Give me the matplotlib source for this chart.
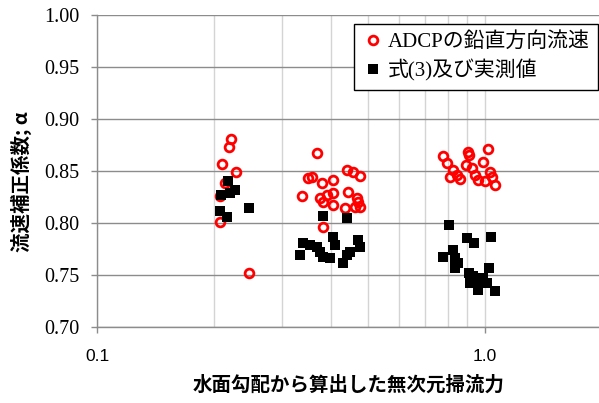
import matplotlib
matplotlib.use("Agg")
import matplotlib.pyplot as plt
from matplotlib.font_manager import FontProperties
from matplotlib.ticker import FixedLocator, NullFormatter, FixedFormatter

# ADCP vertical velocity (red open circles)
adcp_x = [0.221, 0.219, 0.210, 0.228, 0.214, 0.2075, 0.2075, 0.246,
          0.369, 0.350, 0.358, 0.338, 0.380, 0.406, 0.441, 0.457, 0.476, 0.443,
          0.376, 0.382, 0.391, 0.406, 0.406, 0.468, 0.471, 0.476, 0.436, 0.463, 0.382,
          0.779, 0.798, 0.827, 0.813, 0.847, 0.862, 0.904, 0.909, 0.926, 0.943,
          0.960, 0.988, 1.018, 1.030, 1.043, 1.062, 1.000, 0.893]
adcp_y = [0.881, 0.873, 0.857, 0.849, 0.838, 0.826, 0.801, 0.752,
          0.867, 0.843, 0.844, 0.826, 0.838, 0.841, 0.851, 0.849, 0.845, 0.830,
          0.824, 0.820, 0.827, 0.829, 0.817, 0.824, 0.820, 0.815, 0.814, 0.815, 0.796,
          0.864, 0.858, 0.851, 0.844, 0.846, 0.842, 0.868, 0.865, 0.853, 0.846,
          0.841, 0.859, 0.871, 0.849, 0.844, 0.837, 0.840, 0.856]

# Eq.(3) and measured values (black squares)
eq_x = [0.218, 0.227, 0.209, 0.220, 0.2075, 0.216, 0.246,
        0.382, 0.441, 0.340, 0.354, 0.334, 0.369, 0.376, 0.382, 0.399, 0.406,
        0.411, 0.431, 0.441, 0.449, 0.471, 0.476,
        0.808, 0.899, 0.937, 1.036, 0.827, 0.779, 0.837, 0.852, 0.837, 0.909,
        0.915, 0.960, 0.960, 0.988, 1.024, 1.012, 1.062, 0.932]
eq_y = [0.840, 0.832, 0.827, 0.829, 0.812, 0.806, 0.814,
        0.807, 0.805, 0.781, 0.779, 0.769, 0.777, 0.772, 0.767, 0.766, 0.787,
        0.779, 0.762, 0.769, 0.772, 0.784, 0.777,
        0.798, 0.786, 0.781, 0.787, 0.774, 0.767, 0.766, 0.762, 0.757, 0.752,
        0.742, 0.743, 0.736, 0.747, 0.757, 0.742, 0.735, 0.749]

label_adcp = "ADCPの鉛直方向流速"
label_eq = "式(3)及び実測値"
xlabel = "水面勾配から算出した無次元掃流力"
ylabel = "流速補正係数; α"
yticks = [0.70, 0.75, 0.80, 0.85, 0.90, 0.95, 1.00]
xticks = [0.1, 1.0]
xtick_labels = ["0.1", "1.0"]
xminor = [0.2, 0.3, 0.4, 0.5, 0.6, 0.7, 0.8, 0.9]

W, H = 599, 403
fig = plt.figure(figsize=(W / 100, H / 100), dpi=100)
left, right, top, bottom = 97, 602, 15, 327
ax = fig.add_axes([left / W, 1 - bottom / H, (right - left) / W, (bottom - top) / H])

ax.plot(adcp_x, adcp_y, linestyle="none", marker="o", ms=6.3, mfc="none",
        mec="#ff0000", mew=2.0, label=label_adcp, zorder=3)
ax.plot(eq_x, eq_y, linestyle="none", marker="s", ms=7.4, mfc="black",
        mec="black", mew=0, label=label_eq, zorder=4)

ax.set_xscale("log")
ax.set_xlim(0.1, 2.0)
ax.set_ylim(0.70, 1.00)

ax.xaxis.set_major_locator(FixedLocator(xticks))
ax.xaxis.set_major_formatter(FixedFormatter(xtick_labels))
ax.xaxis.set_minor_locator(FixedLocator(xminor))
ax.xaxis.set_minor_formatter(NullFormatter())
ax.set_yticks(yticks)
ax.set_yticklabels([f"{v:.2f}" for v in yticks])

ax.grid(True, axis="x", which="both", color="#d4d4d4", lw=1.0, zorder=0)
ax.grid(True, axis="y", which="major", color="#8c8c8c", lw=1.0, zorder=0)
ax.set_axisbelow(True)

for s in ["top", "right"]:
    ax.spines[s].set_visible(False)
for s in ["left", "bottom"]:
    ax.spines[s].set_color("#8c8c8c")
    ax.spines[s].set_linewidth(1.0)

ax.tick_params(axis="both", which="major", direction="out", length=4.5,
               width=1.0, color="#8c8c8c")
ax.tick_params(axis="x", which="minor", length=0)
ax.tick_params(axis="y", pad=8)
ax.tick_params(axis="x", pad=11)

for t in ax.get_yticklabels():
    t.set_fontfamily("Liberation Serif")
    t.set_fontsize(14.5)
for t in ax.get_xticklabels():
    t.set_fontfamily("Liberation Sans")
    t.set_fontsize(12.5)

fig.text((left + 600) / 2 / W, 1 - 385 / H, xlabel, ha="center", va="center",
         fontsize=14, fontweight="bold", family=["Noto Sans CJK JP", "DejaVu Sans"])
fig.text(21 / W, 1 - 182 / H, ylabel, ha="center", va="center", rotation=90,
         fontsize=14, fontweight="bold",
         family=["Noto Sans CJK JP", "DejaVu Serif"])

leg = ax.legend(loc="upper right", bbox_to_anchor=(598 / W, 1 - 24 / H),
                bbox_transform=fig.transFigure,
                prop=FontProperties(family=["Liberation Serif", "Noto Sans CJK JP"], size=15),
                frameon=True, fancybox=False, edgecolor="black", framealpha=1,
                handlelength=1.0, handletextpad=0.2, borderpad=0.4,
                labelspacing=0.35, borderaxespad=0)
leg.get_frame().set_linewidth(1.0)

fig.savefig("out.png", dpi=100)
